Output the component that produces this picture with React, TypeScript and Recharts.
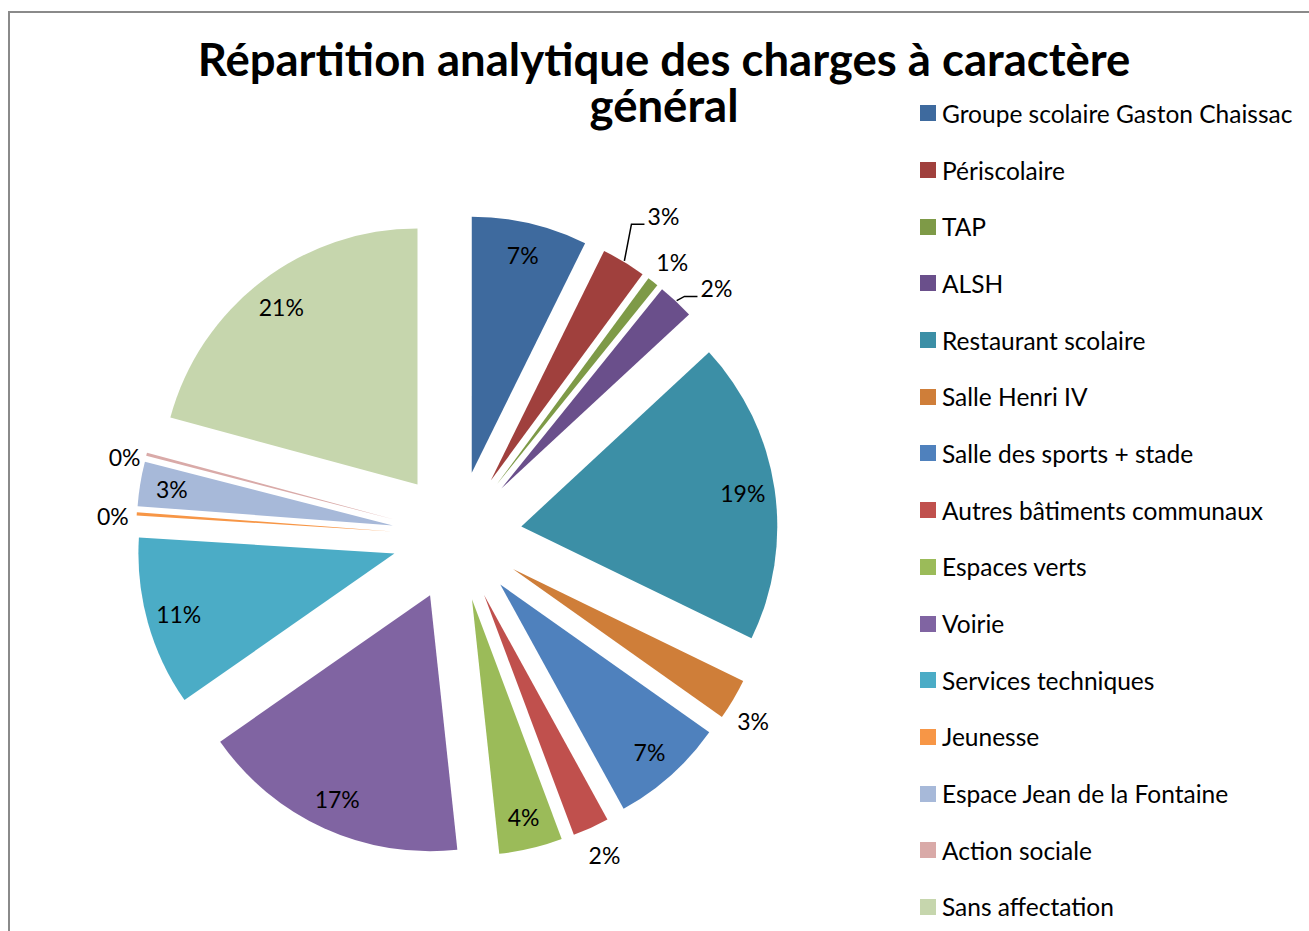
import { PieChart, Pie, Sector, Legend } from "recharts"

// postes analytiques, dans l'ordre du camembert (sens horaire depuis midi)
const categories = [
  "Groupe scolaire Gaston Chaissac",
  "Périscolaire",
  "TAP",
  "ALSH",
  "Restaurant scolaire",
  "Salle Henri IV",
  "Salle des sports + stade",
  "Autres bâtiments communaux",
  "Espaces verts",
  "Voirie",
  "Services techniques",
  "Jeunesse",
  "Espace Jean de la Fontaine",
  "Action sociale",
  "Sans affectation",
]

// part de chaque poste (en %)
const shares = [7.3, 2.8, 0.7, 2.3, 19.1, 2.6, 7.2, 2.3, 4.0, 17.0, 10.7, 0.2, 2.8, 0.2, 20.8]

const colors = [
  "#3E6A9E", "#A0403D", "#7E9A47", "#6A4F8B", "#3C8FA6", "#CF7E39",
  "#4F81BD", "#C0504D", "#9BBB59", "#8064A2", "#4BACC6", "#F79646",
  "#A7B9D9", "#D9AAA8", "#C6D6AD",
]

const data = categories.map((name, i) => ({ name, value: shares[i] }))

const FONT = "Lato, 'Open Sans', sans-serif"
const EXPLODE = 65
const RAD = Math.PI / 180

// labels placed outside the slice, with a small nudge (and leader line) where excel moved them
const outside: Record<number, { dx: number; dy: number; leader?: boolean }> = {
  1: { dx: 24, dy: -20, leader: true },
  2: { dx: 1, dy: 4 },
  3: { dx: 20, dy: 9, leader: true },
  5: { dx: -6, dy: 6 },
  7: { dx: 1, dy: 0 },
  11: { dx: 6, dy: 4 },
  13: { dx: 7, dy: 10 },
}

function tipOf(p: any) {
  return {
    x: p.cx + EXPLODE * Math.cos(-p.midAngle * RAD),
    y: p.cy + EXPLODE * Math.sin(-p.midAngle * RAD),
  }
}

function renderSlice(p: any) {
  const t = tipOf(p)
  return (
    <Sector
      cx={t.x}
      cy={t.y}
      innerRadius={0}
      outerRadius={p.outerRadius}
      startAngle={p.startAngle}
      endAngle={p.endAngle}
      fill={colors[p.index]}
      stroke="none"
    />
  )
}

function renderPct(p: any) {
  const t = tipOf(p)
  const cos = Math.cos(-p.midAngle * RAD)
  const sin = Math.sin(-p.midAngle * RAD)
  const o = outside[p.index]
  const dist = o ? p.outerRadius + 30 : p.outerRadius * 0.875
  const x = t.x + dist * cos + (o ? o.dx : 0)
  const y = t.y + dist * sin + (o ? o.dy : 0)
  const label = `${Math.round(p.percent * 100)}%`

  let leader = null
  if (o && o.leader) {
    const ax = t.x + (p.outerRadius + 1) * cos
    const ay = t.y + (p.outerRadius + 1) * sin
    const left = x - 16
    leader = (
      <polyline
        points={`${ax},${ay} ${left - 16},${y + 8} ${left - 3},${y + 8}`}
        fill="none"
        stroke="#000"
        strokeWidth={1.5}
      />
    )
  }

  return (
    <g key={`pct-${p.index}`}>
      {leader}
      <text
        x={x}
        y={y}
        textAnchor="middle"
        dominantBaseline="central"
        fontFamily={FONT}
        fontSize={23}
        fill="#000"
      >
        {label}
      </text>
    </g>
  )
}

function LegendList() {
  return (
    <div style={{ fontFamily: FONT, fontSize: 24.5, color: "#000" }}>
      {categories.map((name, i) => (
        <div
          key={name}
          style={{ height: 56.7, display: "flex", alignItems: "center", whiteSpace: "nowrap" }}
        >
          <span
            style={{ width: 16, height: 16, background: colors[i], marginRight: 6, flex: "none" }}
          />
          <span>{name}</span>
        </div>
      ))}
    </div>
  )
}

export default function App() {
  const titleStyle = {
    position: "absolute" as const,
    left: 104,
    width: 1100,
    textAlign: "center" as const,
    fontFamily: FONT,
    fontWeight: 700,
    fontSize: 45.5,
    lineHeight: "45px",
    color: "#000",
    whiteSpace: "nowrap" as const,
    zIndex: 2,
  }

  return (
    <div
      style={{
        position: "absolute",
        left: 8,
        top: 11,
        width: 1301,
        height: 920,
        boxSizing: "border-box",
        borderLeft: "2px solid #8a8a8a",
        borderTop: "2px solid #8a8a8a",
        background: "#fff",
        overflow: "hidden",
      }}
    >
      {/* TITRE */}
      <div style={{ ...titleStyle, top: 23 }}>Répartition analytique des charges à caractère</div>
      <div style={{ ...titleStyle, top: 69 }}>général</div>

      <PieChart width={1299} height={918} margin={{ top: 0, right: 0, bottom: 0, left: 0 }}>
        <Pie
          data={data}
          dataKey="value"
          nameKey="name"
          cx={447}
          cy={523}
          outerRadius={256}
          startAngle={90}
          endAngle={-270}
          fill="none"
          stroke="none"
          label={renderSlice}
          labelLine={false}
          legendType="none"
          isAnimationActive={false}
        />
        <Pie
          data={data}
          dataKey="value"
          nameKey="name"
          cx={447}
          cy={523}
          outerRadius={256}
          startAngle={90}
          endAngle={-270}
          fill="none"
          stroke="none"
          label={renderPct}
          labelLine={false}
          legendType="none"
          isAnimationActive={false}
        />
        <Legend
          layout="vertical"
          align="right"
          verticalAlign="top"
          content={() => <LegendList />}
          wrapperStyle={{ left: 910, top: 72, width: 390, right: "auto" }}
        />
      </PieChart>
    </div>
  )
}
